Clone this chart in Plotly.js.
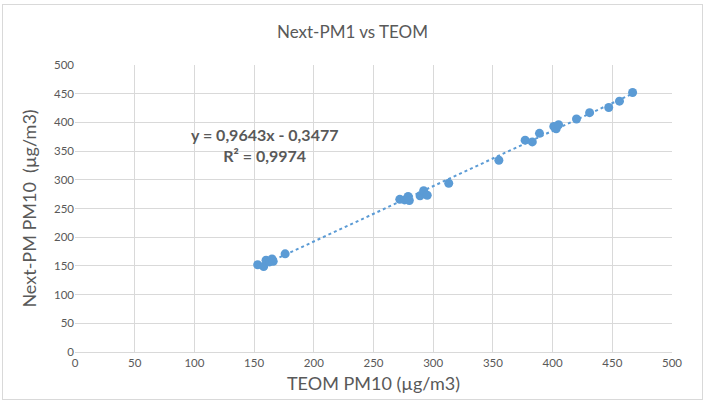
<!DOCTYPE html>
<html>
<head>
<meta charset="utf-8">
<script src="https://cdn.plot.ly/plotly-3.0.1.min.js"></script>
<style>
  html, body { margin: 0; padding: 0; background: #ffffff; }
  #wrap { position: relative; width: 705px; height: 401px; }
  #chart { width: 705px; height: 401px; }
  #frame { position: absolute; left: 2px; top: 4px; width: 699px; height: 394px; border: 1px solid #d9d9d9; pointer-events: none; }
</style>
</head>
<body>
<div id="wrap">
  <div id="chart"></div>
  <div id="frame"></div>
</div>
<script>
// Data
const teom = [153, 158, 160, 163, 165, 166, 176,
              272, 276, 279, 280, 289, 292, 295, 313,
              355, 377, 383, 389, 401, 403, 405,
              420, 431, 447, 456, 467];
const nextpm = [152, 149, 160, 157, 162, 158, 171,
                266, 265, 271, 264, 272, 281, 273, 294,
                334, 369, 366, 381, 393, 389, 396,
                406, 417, 426, 437, 452];

// Trendline coefficients shown on the chart
const slope = 0.9643;
const intercept = -0.3477;
const xMin = Math.min(...teom);
const xMax = Math.max(...teom);
const trendX = [xMin, xMax];
const trendY = trendX.map(v => slope * v + intercept);

const titleText = "Next-PM1 vs TEOM";
const xTitle = "TEOM PM10 (µg/m3)";
const yTitle = "Next-PM PM10  (µg/m3)";
const eqText = "y = 0,9643x - 0,3477<br>R² = 0,9974";

const font = "Lato, 'Open Sans', 'Liberation Sans', sans-serif";
const grey = "#595959";

const traces = [
  {
    x: trendX, y: trendY, mode: "lines", type: "scatter",
    line: { color: "#5b9bd5", width: 2, dash: "dot" },
    hoverinfo: "skip", showlegend: false
  },
  {
    x: teom, y: nextpm, mode: "markers", type: "scatter",
    marker: { color: "#5b9bd5", size: 9 },
    showlegend: false
  }
];

const layout = {
  width: 705, height: 401,
  margin: { l: 75, r: 33, t: 65, b: 49 },
  paper_bgcolor: "#ffffff", plot_bgcolor: "#ffffff",
  font: { family: font, color: grey },
  title: { text: titleText, font: { size: 17, color: grey, family: font }, x: 0.5, xanchor: "center", y: 0.92, yanchor: "middle" },
  xaxis: {
    range: [0, 500], dtick: 50, tick0: 0,
    showgrid: true, gridcolor: "#d9d9d9", gridwidth: 1,
    zeroline: false, showline: true, linecolor: "#d9d9d9",
    ticks: "", tickfont: { size: 11.5, color: grey, family: font },
    title: { text: xTitle, font: { size: 18, color: grey, family: font }, standoff: 9 }
  },
  yaxis: {
    range: [0, 500], dtick: 50, tick0: 0,
    showgrid: true, gridcolor: "#d9d9d9", gridwidth: 1,
    zeroline: false, showline: false,
    ticks: "", ticklen: 0, tickfont: { size: 11.5, color: grey, family: font },
    title: { text: yTitle, font: { size: 18, color: grey, family: font }, standoff: 12 }
  },
  annotations: [
    {
      x: 0.318, y: 0.72, xref: "paper", yref: "paper",
      text: "<b>" + eqText + "</b>", showarrow: false,
      align: "center", xanchor: "center", yanchor: "middle",
      font: { size: 16, color: grey, family: font }
    }
  ]
};

Plotly.newPlot("chart", traces, layout, { displayModeBar: false, staticPlot: true });
</script>
</body>
</html>
